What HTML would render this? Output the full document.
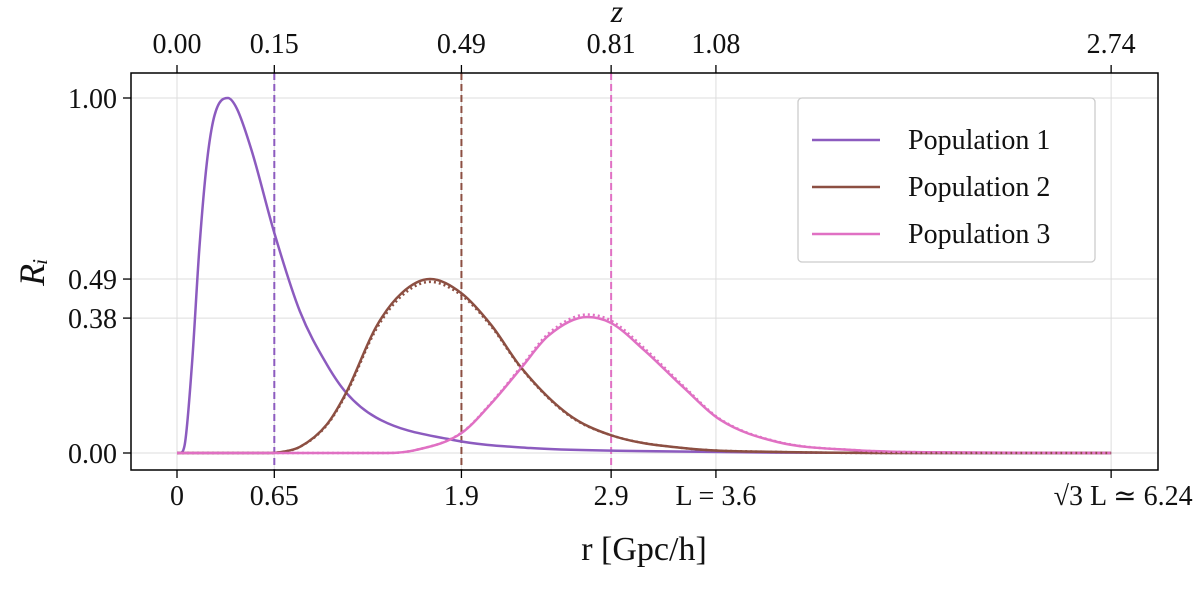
<!DOCTYPE html>
<html><head><meta charset="utf-8"><style>
body{margin:0;background:#fff}
svg text{font-family:"Liberation Serif","DejaVu Serif",serif;fill:#111}
</style></head><body>
<svg width="1200" height="584" viewBox="0 0 1200 584" id="c"></svg>
<script>
const xTicks=[0,0.65,1.9,2.9,3.6,6.24];
const xTickLabels=["0","0.65","1.9","2.9","L = 3.6","√3 L ≃ 6.24"];
const zTickLabels=["0.00","0.15","0.49","0.81","1.08","2.74"];
const yTicks=[0,0.38,0.49,1.0];
const yTickLabels=["0.00","0.38","0.49","1.00"];
const vlines=[0.65,1.9,2.9];
const p1x=[0,0.02,0.05,0.1,0.15,0.2,0.25,0.34,0.4,0.5,0.65,0.82,1.0,1.13,1.33,1.84,2.36,3,4,6.24];
const p1y=[0,0,0.02,0.25,0.58,0.82,0.95,1.0,0.97,0.85,0.62,0.40,0.25,0.17,0.10,0.037,0.014,0.006,0.001,0];
const p2x=[0,0.62,0.7,0.82,1.0,1.13,1.33,1.5,1.69,1.9,2.1,2.3,2.61,2.9,3.38,4.0,5,6.24];
const p2y=[0,0,0.003,0.017,0.08,0.17,0.355,0.45,0.49,0.45,0.36,0.24,0.11,0.05,0.014,0.003,0,0];
const p2dy=[0,0,0.003,0.017,0.078,0.166,0.348,0.442,0.482,0.444,0.356,0.238,0.108,0.05,0.014,0.003,0,0];
const p3x=[0,1.4,1.59,1.9,2.1,2.3,2.48,2.74,2.9,3.12,3.38,3.63,4.01,4.53,5,6.24];
const p3y=[0,0,0.008,0.056,0.14,0.24,0.33,0.383,0.366,0.29,0.186,0.093,0.031,0.008,0.002,0];
const p3dy=[0,0,0.008,0.057,0.142,0.244,0.336,0.39,0.373,0.296,0.19,0.095,0.032,0.008,0.002,0];
const series=["Population 1","Population 2","Population 3"];
const colors=["#8c5bbf","#8c4f42","#e070c3"];
const sx=v=>177+v*149.7, sy=v=>453-v*355;
const S=document.getElementById('c'),NS="http://www.w3.org/2000/svg";
function mk(t,a,txt){const e=document.createElementNS(NS,t);for(const k in a)e.setAttribute(k,a[k]);if(txt!=null)e.textContent=txt;S.appendChild(e);return e;}
xTicks.forEach(v=>{const e=mk('line',{x1:sx(v),x2:sx(v),y1:73,y2:470,stroke:'#ddd','stroke-width':1});

});
yTicks.forEach(v=>{const e=mk('line',{x1:131,x2:1158,y1:sy(v),y2:sy(v),stroke:'#ddd','stroke-width':1});

});
function path(xs,ys){const n=xs.length,X=xs.map(sx),Y=ys.map(sy);const d=[],m=[];
for(let i=0;i<n-1;i++)d.push((Y[i+1]-Y[i])/(X[i+1]-X[i]));
m[0]=d[0];m[n-1]=d[n-2];for(let i=1;i<n-1;i++)m[i]=(d[i-1]*d[i]<=0)?0:(d[i-1]+d[i])/2;
for(let i=0;i<n-1;i++){if(d[i]===0){m[i]=0;m[i+1]=0;continue;}const a=m[i]/d[i],b=m[i+1]/d[i],s=a*a+b*b;if(s>9){const t=3/Math.sqrt(s);m[i]=t*a*d[i];m[i+1]=t*b*d[i];}}
let p=`M${X[0]},${Y[0]}`;for(let i=0;i<n-1;i++){const h=(X[i+1]-X[i])/3;p+=` C${X[i]+h},${Y[i]+m[i]*h} ${X[i+1]-h},${Y[i+1]-m[i+1]*h} ${X[i+1]},${Y[i+1]}`;}return p;}
vlines.forEach((v,i)=>{const e=mk('line',{x1:sx(v),x2:sx(v),y1:73,y2:470,stroke:colors[i],'stroke-width':2,'stroke-dasharray':'7,4'});

});
[[p1x,p1y],[p2x,p2y],[p3x,p3y]].forEach(([x,y],i)=>{const e=mk('path',{d:path(x,y),fill:'none',stroke:colors[i],'stroke-width':2.5});

});
[[p2x,p2dy,1],[p3x,p3dy,2]].forEach(([x,y,c])=>{const e=mk('path',{d:path(x,y),fill:'none',stroke:colors[c],'stroke-width':2.5,'stroke-dasharray':'2,3'});

});
mk('rect',{x:131,y:73,width:1027,height:397,fill:'none',stroke:'#000','stroke-width':1.5,});
xTicks.forEach((v,i)=>{mk('line',{x1:sx(v),x2:sx(v),y1:470,y2:478,stroke:'#000','stroke-width':1.3});mk('line',{x1:sx(v),x2:sx(v),y1:65,y2:73,stroke:'#000','stroke-width':1.3});
let t=mk('text',{x:sx(v)+(i==5?12:0),y:505,'font-size':28,'text-anchor':'middle'},xTickLabels[i]);


t=mk('text',{x:sx(v),y:53,'font-size':28,'text-anchor':'middle'},zTickLabels[i]);

});
yTicks.forEach((v,i)=>{mk('line',{x1:123,x2:131,y1:sy(v),y2:sy(v),stroke:'#000','stroke-width':1.3});
const t=mk('text',{x:117,y:sy(v)+10,'font-size':28,'text-anchor':'end'},yTickLabels[i]);

});
mk('text',{x:644,y:560,'font-size':34,'text-anchor':'middle',},'r [Gpc/h]');
mk('text',{x:617,y:22,'font-size':32,'font-style':'italic','text-anchor':'middle',},'z');
mk('text',{x:44,y:272,'font-size':36,'font-style':'italic','text-anchor':'middle',transform:'rotate(-90 44 272)',},'Rᵢ');
mk('rect',{x:798,y:98,width:297,height:164,rx:4,fill:'#fff',stroke:'#ccc','stroke-width':1.3,});
series.forEach((s,i)=>{const y=140+i*47;
let e=mk('line',{x1:812,x2:880,y1:y,y2:y,stroke:colors[i],'stroke-width':2.5});


e=mk('text',{x:908,y:y+9,'font-size':28},s);

});
</script>
</body></html>
